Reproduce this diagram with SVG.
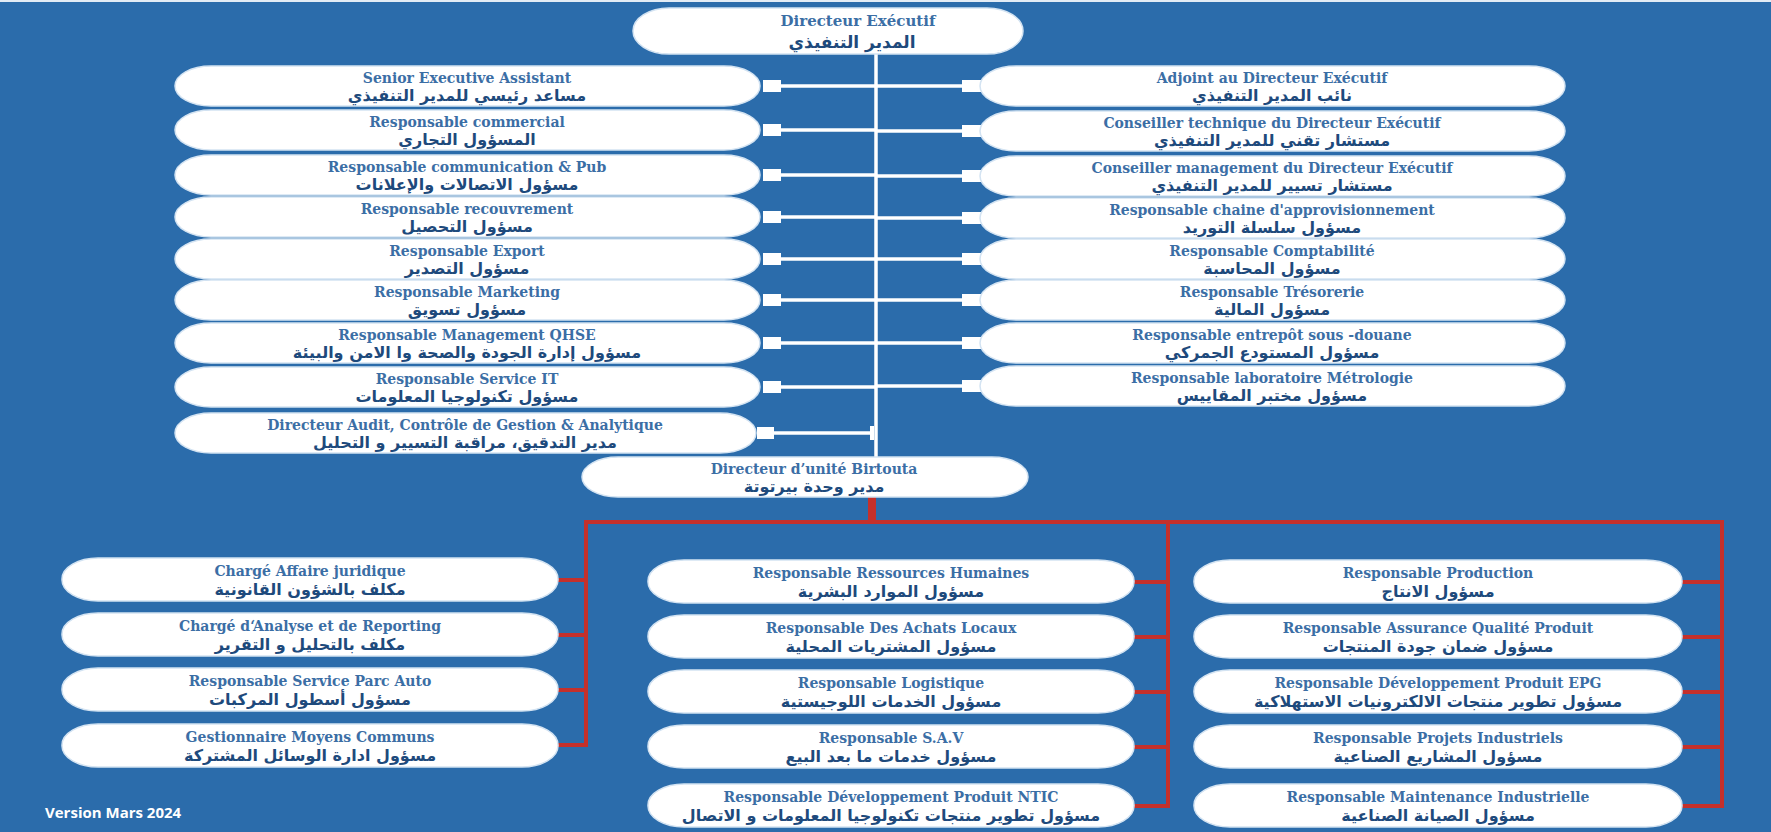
<svg xmlns="http://www.w3.org/2000/svg" width="1771" height="832" viewBox="0 0 1771 832">
  <style>
    .box { fill: #ffffff; stroke: #d3e3f2; stroke-width: 1.5; }
    .fr { font-family: "DejaVu Serif", "Liberation Serif", serif; font-weight: bold; font-size: 14px; fill: #3b6ea5; text-anchor: middle; }
    .ar { font-family: "DejaVu Sans", "Noto Sans", sans-serif; font-weight: bold; font-size: 16px; fill: #1e4a7c; text-anchor: middle; }
    .big.fr { font-size: 15px; }
    .big.ar { font-size: 17px; }
    .wl { stroke: #ffffff; stroke-width: 3.5; fill: none; }
    .wsq { fill: #ffffff; }
    .rl { stroke: #c4302b; stroke-width: 4; fill: none; }
    .ver { font-family: "Open Sans", "Liberation Sans", sans-serif; font-weight: bold; font-size: 15px; fill: #ffffff; }
  </style>

  <!-- background -->
  <rect x="0" y="0" width="1771" height="832" fill="#2b6cab"/>
  <rect x="0" y="0" width="1771" height="2" fill="#e3ecf5"/>

  <!-- connectors -->
  <g id="connectors">
    <!-- executive spine -->
    <line class="wl" x1="876" y1="53" x2="876" y2="458" stroke-width="4"/>
    <!-- left staff links -->
    <g>
      <line class="wl" x1="781" y1="86" x2="876" y2="86"/><rect class="wsq" x="763" y="80" width="18" height="12"/>
      <line class="wl" x1="781" y1="130" x2="876" y2="130"/><rect class="wsq" x="763" y="124" width="18" height="12"/>
      <line class="wl" x1="781" y1="175" x2="876" y2="175"/><rect class="wsq" x="763" y="169" width="18" height="12"/>
      <line class="wl" x1="781" y1="217" x2="876" y2="217"/><rect class="wsq" x="763" y="211" width="18" height="12"/>
      <line class="wl" x1="781" y1="259" x2="876" y2="259"/><rect class="wsq" x="763" y="253" width="18" height="12"/>
      <line class="wl" x1="781" y1="300" x2="876" y2="300"/><rect class="wsq" x="763" y="294" width="18" height="12"/>
      <line class="wl" x1="781" y1="343" x2="876" y2="343"/><rect class="wsq" x="763" y="337" width="18" height="12"/>
      <line class="wl" x1="781" y1="387" x2="876" y2="387"/><rect class="wsq" x="763" y="381" width="18" height="12"/>
      <line class="wl" x1="774" y1="433" x2="872" y2="433"/><rect class="wsq" x="757" y="427" width="17" height="12"/>
      <rect class="wsq" x="870" y="426" width="4" height="14"/>
    </g>
    <!-- right staff links -->
    <g>
      <line class="wl" x1="876" y1="86" x2="962" y2="86"/><rect class="wsq" x="962" y="80" width="19" height="12"/>
      <line class="wl" x1="876" y1="131" x2="962" y2="131"/><rect class="wsq" x="962" y="125" width="19" height="12"/>
      <line class="wl" x1="876" y1="176" x2="962" y2="176"/><rect class="wsq" x="962" y="170" width="19" height="12"/>
      <line class="wl" x1="876" y1="218" x2="962" y2="218"/><rect class="wsq" x="962" y="212" width="19" height="12"/>
      <line class="wl" x1="876" y1="259" x2="962" y2="259"/><rect class="wsq" x="962" y="253" width="19" height="12"/>
      <line class="wl" x1="876" y1="300" x2="962" y2="300"/><rect class="wsq" x="962" y="294" width="19" height="12"/>
      <line class="wl" x1="876" y1="343" x2="962" y2="343"/><rect class="wsq" x="962" y="337" width="19" height="12"/>
      <line class="wl" x1="876" y1="386" x2="962" y2="386"/><rect class="wsq" x="962" y="380" width="19" height="12"/>
    </g>
    <!-- unit director links -->
    <g>
      <rect x="868" y="497" width="8" height="25" fill="#c4302b"/>
      <line class="rl" x1="584" y1="522" x2="1724" y2="522"/>
      <line class="rl" x1="586" y1="520" x2="586" y2="747"/>
      <line class="rl" x1="1168" y1="520" x2="1168" y2="808"/>
      <line class="rl" x1="1722" y1="520" x2="1722" y2="808"/>
      <line class="rl" x1="558" y1="580" x2="586" y2="580"/>
      <line class="rl" x1="558" y1="635" x2="586" y2="635"/>
      <line class="rl" x1="558" y1="690" x2="586" y2="690"/>
      <line class="rl" x1="558" y1="745" x2="586" y2="745"/>
      <line class="rl" x1="1134" y1="582" x2="1168" y2="582"/>
      <line class="rl" x1="1134" y1="637" x2="1168" y2="637"/>
      <line class="rl" x1="1134" y1="692" x2="1168" y2="692"/>
      <line class="rl" x1="1134" y1="747" x2="1168" y2="747"/>
      <line class="rl" x1="1134" y1="806" x2="1168" y2="806"/>
      <line class="rl" x1="1682" y1="582" x2="1722" y2="582"/>
      <line class="rl" x1="1682" y1="637" x2="1722" y2="637"/>
      <line class="rl" x1="1682" y1="692" x2="1722" y2="692"/>
      <line class="rl" x1="1682" y1="747" x2="1722" y2="747"/>
      <line class="rl" x1="1682" y1="806" x2="1722" y2="806"/>
    </g>
  </g>

  <!-- executive director -->
  <g id="n-dir-exec">
    <rect class="box" x="633" y="8" width="390" height="46" rx="36" ry="23"/>
    <text class="fr big" x="858" y="26">Directeur Exécutif</text>
    <text class="ar big" x="852" y="48">المدير التنفيذي</text>
  </g>

  <!-- left staff column -->
  <g id="n-senior-assistant">
    <rect class="box" x="175" y="66" width="585" height="40" rx="36" ry="20"/>
    <text class="fr" x="467" y="83">Senior Executive Assistant</text>
    <text class="ar" x="467" y="101">مساعد رئيسي للمدير التنفيذي</text>
  </g>
  <g id="n-commercial">
    <rect class="box" x="175" y="110" width="585" height="40" rx="36" ry="20"/>
    <text class="fr" x="467" y="127">Responsable commercial</text>
    <text class="ar" x="467" y="145">المسؤول التجاري</text>
  </g>
  <g id="n-communication">
    <rect class="box" x="175" y="155" width="585" height="40" rx="36" ry="20"/>
    <text class="fr" x="467" y="172">Responsable communication &amp; Pub</text>
    <text class="ar" x="467" y="190">مسؤول  الاتصالات والإعلانات</text>
  </g>
  <g id="n-recouvrement">
    <rect class="box" x="175" y="197" width="585" height="40" rx="36" ry="20"/>
    <text class="fr" x="467" y="214">Responsable recouvrement</text>
    <text class="ar" x="467" y="232">مسؤول التحصيل</text>
  </g>
  <g id="n-export">
    <rect class="box" x="175" y="239" width="585" height="40" rx="36" ry="20"/>
    <text class="fr" x="467" y="256">Responsable Export</text>
    <text class="ar" x="467" y="274">مسؤول التصدير</text>
  </g>
  <g id="n-marketing">
    <rect class="box" x="175" y="280" width="585" height="40" rx="36" ry="20"/>
    <text class="fr" x="467" y="297">Responsable Marketing</text>
    <text class="ar" x="467" y="315">مسؤول  تسويق</text>
  </g>
  <g id="n-qhse">
    <rect class="box" x="175" y="323" width="585" height="40" rx="36" ry="20"/>
    <text class="fr" x="467" y="340">Responsable Management QHSE</text>
    <text class="ar" x="467" y="358">مسؤول  إدارة الجودة والصحة وا الامن والبيئة</text>
  </g>
  <g id="n-it">
    <rect class="box" x="175" y="367" width="585" height="40" rx="36" ry="20"/>
    <text class="fr" x="467" y="384">Responsable Service IT</text>
    <text class="ar" x="467" y="402">مسؤول تكنولوجيا المعلومات</text>
  </g>
  <g id="n-audit">
    <rect class="box" x="175" y="413" width="581" height="40" rx="36" ry="20"/>
    <text class="fr" x="465" y="430">Directeur Audit, Contrôle de Gestion &amp; Analytique</text>
    <text class="ar" x="465" y="448">مدير التدقيق، مراقبة التسيير و التحليل</text>
  </g>

  <!-- right staff column -->
  <g id="n-adjoint">
    <rect class="box" x="980" y="66" width="585" height="40" rx="36" ry="20"/>
    <text class="fr" x="1272" y="83">Adjoint au Directeur Exécutif</text>
    <text class="ar" x="1272" y="101">نائب المدير التنفيذي</text>
  </g>
  <g id="n-conseiller-tech">
    <rect class="box" x="980" y="111" width="585" height="40" rx="36" ry="20"/>
    <text class="fr" x="1272" y="128">Conseiller technique du Directeur Exécutif</text>
    <text class="ar" x="1272" y="146">مستشار تقني للمدير التنفيذي</text>
  </g>
  <g id="n-conseiller-mgmt">
    <rect class="box" x="980" y="156" width="585" height="40" rx="36" ry="20"/>
    <text class="fr" x="1272" y="173">Conseiller management du Directeur Exécutif</text>
    <text class="ar" x="1272" y="191">مستشار تسيير للمدير التنفيذي</text>
  </g>
  <g id="n-supply-chain">
    <rect class="box" x="980" y="198" width="585" height="40" rx="36" ry="20"/>
    <text class="fr" x="1272" y="215">Responsable chaine d'approvisionnement</text>
    <text class="ar" x="1272" y="233">مسؤول سلسلة التوريد</text>
  </g>
  <g id="n-comptabilite">
    <rect class="box" x="980" y="239" width="585" height="40" rx="36" ry="20"/>
    <text class="fr" x="1272" y="256">Responsable Comptabilité</text>
    <text class="ar" x="1272" y="274">مسؤول المحاسبة</text>
  </g>
  <g id="n-tresorerie">
    <rect class="box" x="980" y="280" width="585" height="40" rx="36" ry="20"/>
    <text class="fr" x="1272" y="297">Responsable Trésorerie</text>
    <text class="ar" x="1272" y="315">مسؤول المالية</text>
  </g>
  <g id="n-entrepot">
    <rect class="box" x="980" y="323" width="585" height="40" rx="36" ry="20"/>
    <text class="fr" x="1272" y="340">Responsable entrepôt sous -douane</text>
    <text class="ar" x="1272" y="358">مسؤول المستودع الجمركي</text>
  </g>
  <g id="n-metrologie">
    <rect class="box" x="980" y="366" width="585" height="40" rx="36" ry="20"/>
    <text class="fr" x="1272" y="383">Responsable laboratoire Métrologie</text>
    <text class="ar" x="1272" y="401">مسؤول مختبر المقاييس</text>
  </g>

  <!-- unit director -->
  <g id="n-dir-birtouta">
    <rect class="box" x="582" y="457" width="446" height="40" rx="36" ry="20"/>
    <text class="fr" x="814" y="474">Directeur d’unité Birtouta</text>
    <text class="ar" x="814" y="492">مدير وحدة بيرتوتة</text>
  </g>

  <!-- unit: left group -->
  <g id="n-juridique">
    <rect class="box" x="62" y="558" width="496" height="43" rx="36" ry="21"/>
    <text class="fr" x="310" y="576">Chargé Affaire juridique</text>
    <text class="ar" x="310" y="595">مكلف بالشؤون القانونية</text>
  </g>
  <g id="n-reporting">
    <rect class="box" x="62" y="613" width="496" height="43" rx="36" ry="21"/>
    <text class="fr" x="310" y="631">Chargé d‘Analyse et de Reporting</text>
    <text class="ar" x="310" y="650">مكلف بالتحليل و التقرير</text>
  </g>
  <g id="n-parc-auto">
    <rect class="box" x="62" y="668" width="496" height="43" rx="36" ry="21"/>
    <text class="fr" x="310" y="686">Responsable Service Parc Auto</text>
    <text class="ar" x="310" y="705">مسؤول أسطول المركبات</text>
  </g>
  <g id="n-moyens-communs">
    <rect class="box" x="62" y="724" width="496" height="43" rx="36" ry="21"/>
    <text class="fr" x="310" y="742">Gestionnaire Moyens Communs</text>
    <text class="ar" x="310" y="761">مسؤول ادارة الوسائل المشتركة</text>
  </g>

  <!-- unit: middle group -->
  <g id="n-rh">
    <rect class="box" x="648" y="560" width="486" height="43" rx="36" ry="21"/>
    <text class="fr" x="891" y="578">Responsable Ressources Humaines</text>
    <text class="ar" x="891" y="597">مسؤول الموارد البشرية</text>
  </g>
  <g id="n-achats">
    <rect class="box" x="648" y="615" width="486" height="43" rx="36" ry="21"/>
    <text class="fr" x="891" y="633">Responsable Des Achats Locaux</text>
    <text class="ar" x="891" y="652">مسؤول المشتريات المحلية</text>
  </g>
  <g id="n-logistique">
    <rect class="box" x="648" y="670" width="486" height="43" rx="36" ry="21"/>
    <text class="fr" x="891" y="688">Responsable Logistique</text>
    <text class="ar" x="891" y="707">مسؤول الخدمات اللوجيستية</text>
  </g>
  <g id="n-sav">
    <rect class="box" x="648" y="725" width="486" height="43" rx="36" ry="21"/>
    <text class="fr" x="891" y="743">Responsable S.A.V</text>
    <text class="ar" x="891" y="762">مسؤول خدمات ما بعد البيع</text>
  </g>
  <g id="n-ntic">
    <rect class="box" x="648" y="784" width="486" height="43" rx="36" ry="21"/>
    <text class="fr" x="891" y="802">Responsable Développement Produit NTIC</text>
    <text class="ar" x="891" y="821">مسؤول تطوير منتجات تكنولوجيا المعلومات و الاتصال</text>
  </g>

  <!-- unit: right group -->
  <g id="n-production">
    <rect class="box" x="1194" y="560" width="488" height="43" rx="36" ry="21"/>
    <text class="fr" x="1438" y="578">Responsable Production</text>
    <text class="ar" x="1438" y="597">مسؤول الانتاج</text>
  </g>
  <g id="n-qualite">
    <rect class="box" x="1194" y="615" width="488" height="43" rx="36" ry="21"/>
    <text class="fr" x="1438" y="633">Responsable Assurance Qualité Produit</text>
    <text class="ar" x="1438" y="652">مسؤول ضمان جودة المنتجات</text>
  </g>
  <g id="n-epg">
    <rect class="box" x="1194" y="670" width="488" height="43" rx="36" ry="21"/>
    <text class="fr" x="1438" y="688">Responsable Développement Produit EPG</text>
    <text class="ar" x="1438" y="707">مسؤول تطوير منتجات الالكترونيات الاستهلاكية</text>
  </g>
  <g id="n-projets">
    <rect class="box" x="1194" y="725" width="488" height="43" rx="36" ry="21"/>
    <text class="fr" x="1438" y="743">Responsable Projets Industriels</text>
    <text class="ar" x="1438" y="762">مسؤول المشاريع الصناعية</text>
  </g>
  <g id="n-maintenance">
    <rect class="box" x="1194" y="784" width="488" height="43" rx="36" ry="21"/>
    <text class="fr" x="1438" y="802">Responsable Maintenance Industrielle</text>
    <text class="ar" x="1438" y="821">مسؤول الصيانة الصناعية</text>
  </g>

  <text class="ver" x="45" y="818">Version Mars 2024</text>
</svg>
